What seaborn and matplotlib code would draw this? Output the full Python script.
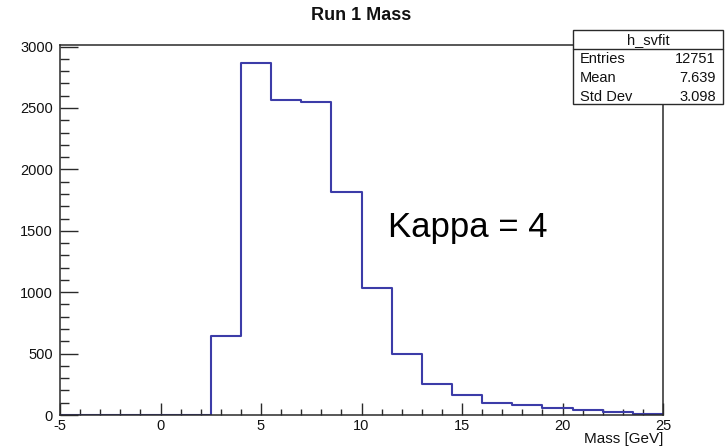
import numpy as np
import pandas as pd
import matplotlib
matplotlib.use("Agg")
import matplotlib.pyplot as plt
from matplotlib.ticker import MultipleLocator
from matplotlib.patches import Rectangle
from matplotlib.lines import Line2D
import seaborn as sns

# ---- data ----
bin_edges = [-5.0, -3.5, -2.0, -0.5, 1.0, 2.5, 4.0, 5.5, 7.0, 8.5, 10.0,
             11.5, 13.0, 14.5, 16.0, 17.5, 19.0, 20.5, 22.0, 23.5, 25.0]
bin_counts = [0, 0, 0, 0, 0, 640, 2865, 2562, 2548, 1812, 1032,
              495, 250, 160, 95, 80, 55, 40, 22, 8]
x_ticks = [-5, 0, 5, 10, 15, 20, 25]
y_ticks = [0, 500, 1000, 1500, 2000, 2500, 3000]
title = "Run 1 Mass"
x_label = "Mass [GeV]"
annotation = "Kappa = 4"
stats_name = "h_svfit"
stats_labels = ["Entries", "Mean", "Std Dev"]
stats_values = ["12751", "7.639", "3.098"]

centers = [(a + b) / 2 for a, b in zip(bin_edges[:-1], bin_edges[1:])]
df = pd.DataFrame({"mass": centers, "count": bin_counts})

sns.set_theme(style="white")
plt.rcParams["font.family"] = ["Liberation Sans", "DejaVu Sans"]

W, H = 725, 448
TXT = "#111111"
fig = plt.figure(figsize=(W / 100, H / 100), dpi=100)
ax = fig.add_axes([60 / W, 1 - 415 / H, 603 / W, 370 / H])

sns.histplot(data=df, x="mass", weights="count", bins=bin_edges,
             element="step", fill=False, color="#3c3ca8", linewidth=1.5, ax=ax)

ax.set_xlim(-5, 25)
ax.set_ylim(0, 3013)
ax.set_xticks(x_ticks)
ax.set_yticks(y_ticks)
ax.set_xticklabels([str(t) for t in x_ticks])
ax.set_yticklabels([str(t) for t in y_ticks])
ax.xaxis.set_minor_locator(MultipleLocator(1))
ax.yaxis.set_minor_locator(MultipleLocator(100))
ax.set_xlabel("")
ax.set_ylabel("")

for s in ax.spines.values():
    s.set_visible(True)
    s.set_color("#2a2a2a")
    s.set_linewidth(1.1)

ax.tick_params(axis="x", which="major", direction="in", length=8.3, width=1.0,
               color="#2a2a2a", labelsize=10.5, pad=3, bottom=True, top=False,
               labelcolor=TXT)
ax.tick_params(axis="x", which="minor", direction="in", length=4.3, width=1.0,
               color="#2a2a2a", bottom=True, top=False)
ax.tick_params(axis="y", which="major", direction="in", length=12.6, width=1.0,
               color="#2a2a2a", labelsize=10.5, pad=5, left=True, right=False,
               labelcolor=TXT)
ax.tick_params(axis="y", which="minor", direction="in", length=6.5, width=1.0,
               color="#2a2a2a", left=True, right=False)

# x label, right-aligned at axis end
fig.text(663 / W, 1 - 439 / H, x_label, ha="right", va="center",
         fontsize=11, color=TXT)

# title
fig.text(361 / W, 1 - 15 / H, title, ha="center", va="center",
         fontsize=13, fontweight="bold", color=TXT)

# annotation
ax.text(11.32, 1450, annotation, ha="left", va="baseline", fontsize=25,
        color="black")

# stats box
x0, x1 = 573, 723
y0, y1 = 30, 104
fig.patches.append(Rectangle((x0 / W, 1 - y1 / H), (x1 - x0) / W, (y1 - y0) / H,
                             transform=fig.transFigure, facecolor="white",
                             edgecolor="#2a2a2a", linewidth=1.0, zorder=5))
fig.lines.append(Line2D([x0 / W, x1 / W], [1 - 49 / H, 1 - 49 / H],
                        transform=fig.transFigure, color="#2a2a2a",
                        linewidth=1.0, zorder=6))
fig.text((x0 + x1) / 2 / W, 1 - 40 / H, stats_name, ha="center", va="center",
         fontsize=10.5, color=TXT, zorder=7)
for i, (lab, val) in enumerate(zip(stats_labels, stats_values)):
    yy = 1 - (59 + 19 * i) / H
    fig.text(580 / W, yy, lab, ha="left", va="center", fontsize=10.5,
             color=TXT, zorder=7)
    fig.text(716 / W, yy, val, ha="right", va="center", fontsize=10.5,
             color=TXT, zorder=7)

fig.savefig("out.png", dpi=100, facecolor="white")
